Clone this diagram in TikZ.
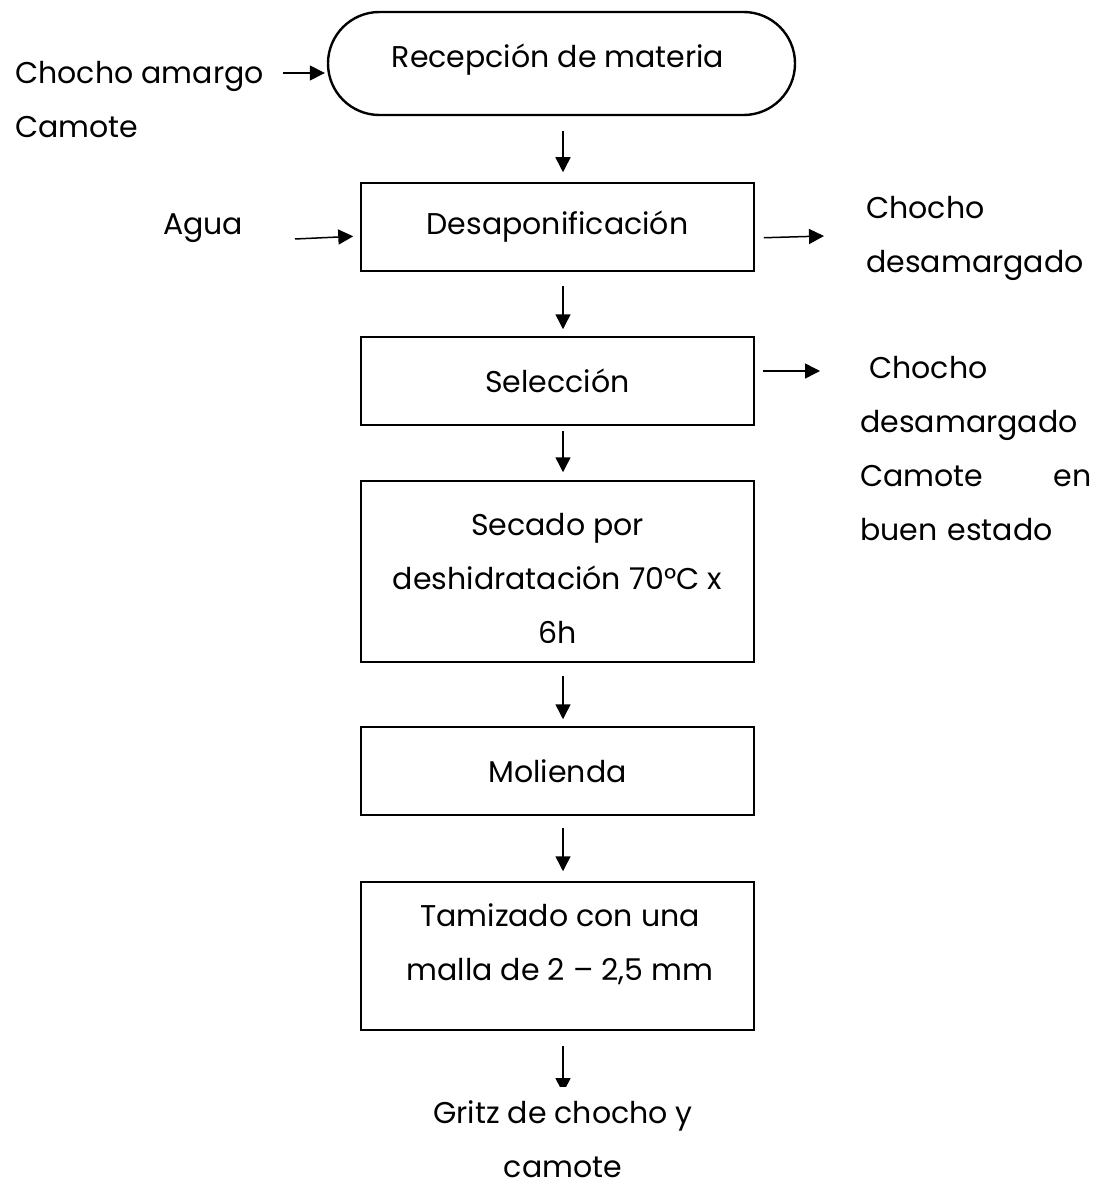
\documentclass[tikz,border=0pt]{standalone}
\usepackage{fontspec}
\setmainfont{Poppins}
\usetikzlibrary{arrows.meta}
\begin{document}
\begin{tikzpicture}[x=0.5pt,y=-0.5pt,
  every node/.style={font=\fontsize{15}{27}\selectfont, inner sep=0pt},
  stepbox/.style={draw, line width=0.75pt, minimum width=196.5pt, minimum height=44pt},
  flow/.style={-{Triangle[length=7.5pt,width=7.5pt]}, line width=0.75pt}]
\useasboundingbox (0,0) rectangle (1110,1182);

% start terminal
\node[draw, line width=1.2pt, rounded corners=25.7pt, minimum width=233.5pt, minimum height=51.5pt] (recep) at (561.5,63.5) {};
\node (recepT) at (558,60) {Recepción de materia};

% process boxes
\node[stepbox] (desap) at (557.5,227) {Desaponificación};
\node[stepbox] (selec) at (557.5,381) {Selección};
\node[stepbox, minimum height=90.5pt] (secado) at (557.5,571.5) {};
\node[align=center] (secadoT) at (557.5,578.5) {Secado por\\deshidratación 70°C x\\6h};
\node[stepbox] (molienda) at (557.5,771) {Molienda};
\node[stepbox, minimum height=74pt] (tamiz) at (557.5,956) {};
\node[align=center] (tamizT) at (560,944.5) {Tamizado con una\\malla de 2 – 2,5 mm};
\node[align=center] (gritz) at (563,1139) {Gritz de chocho y\\camote};

% inputs and outputs
\node[anchor=west, align=left] (inputs) at (15,100) {Chocho amargo\\Camote};
\node (agua) at (203,228) {Agua};
\node[anchor=west, align=left] (out1) at (866,238) {Chocho\\desamargado};
\node[anchor=west, align=left, text width=115.5pt] (out2) at (860,449)
  {\hspace*{4.5pt}Chocho\\desamargado\\\makebox[115.5pt][s]{Camote\hfill en}\\buen estado};

\coordinate (inA) at (283,73);
\coordinate (aguaA) at (295,239);
\coordinate (out1A) at (824,236);
\coordinate (out2A) at (820,371);
\coordinate (gritzA) at (563,1093);

% main flow
\draw[flow, shorten <=7.5pt, shorten >=5pt] ([xshift=2.75pt]desap.north |- recep.south) -- ([xshift=2.75pt]desap.north);
\draw[flow, shorten <=7pt, shorten >=3.5pt] ([xshift=2.75pt]desap.south) -- ([xshift=2.75pt]selec.north);
\draw[flow, shorten <=2.5pt, shorten >=4pt] ([xshift=2.75pt]selec.south) -- ([xshift=2.75pt]secado.north);
\draw[flow, shorten <=6.5pt, shorten >=3.5pt] ([xshift=2.75pt]secado.south) -- ([xshift=2.75pt]molienda.north);
\draw[flow, shorten <=6pt, shorten >=5pt] ([xshift=2.75pt]molienda.south) -- ([xshift=2.75pt]tamiz.north);
\begin{scope}
  \clip (0,0) rectangle (1110,1086);
  \draw[flow, shorten <=7.5pt] ([xshift=2.75pt]tamiz.south) -- (gritzA);
\end{scope}

% side arrows
\draw[flow, shorten >=1pt] (inA) -- ([yshift=-4.75pt]recep.west);
\draw[flow, shorten >=3.5pt] (aguaA) -- ([yshift=-4.5pt]desap.west);
\draw[flow, shorten <=4.5pt] ([yshift=-5.5pt]desap.east) -- (out1A);
\draw[flow, shorten <=4pt] ([yshift=5pt]selec.east) -- (out2A);
\end{tikzpicture}
\end{document}
